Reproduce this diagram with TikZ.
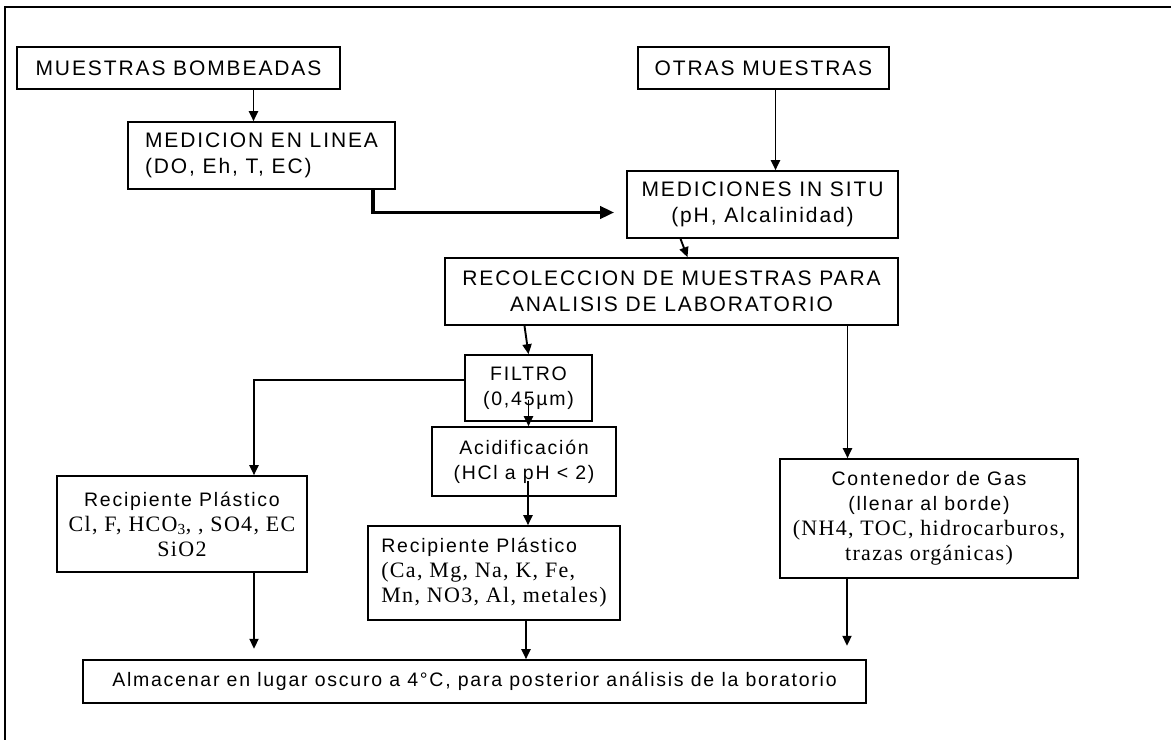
\documentclass[tikz,border=0pt]{standalone}
\usepackage{fontspec}
\setmainfont{Liberation Sans}[LetterSpace=9]
\newfontfamily\serifo{Liberation Serif}[LetterSpace=6]
\newcommand{\seri}{\serifo\fontsize{22}{25}\selectfont}
\usetikzlibrary{arrows.meta}

\begin{document}
\begin{tikzpicture}[x=1pt,y=-1pt,
        caja/.style={rectangle,draw,line width=1.6pt,inner sep=0pt,align=center,font=\fontsize{21}{26}\selectfont},
        chica/.style={font=\fontsize{19.5}{25}\selectfont},
        flecha/.style={-{Triangle[length=10pt,width=9pt]},line width=1.9pt},
        gruesa/.style={-{Triangle[length=14pt,width=12pt]},line width=3.6pt}]
        \useasboundingbox (0,0) rectangle (1171,740);
        \draw[line width=1.2pt] (1171,7) -- (5,7) -- (5,740);
        \node[caja,minimum width=323pt,minimum height=42pt] (bomb) at (178.5,68) {MUESTRAS BOMBEADAS};
        \node[caja,align=left,minimum width=267pt,minimum height=67pt] (linea) at (261.5,155.5) {MEDICION EN LINEA\\(DO, Eh, T, EC)};
        \node[caja,minimum width=251pt,minimum height=42pt] (otras) at (763.5,68) {OTRAS MUESTRAS};
        \node[caja,minimum width=271pt,minimum height=67pt] (situ) at (762.5,204.5) {MEDICIONES IN SITU\\(pH, Alcalinidad)};
        \node[caja,minimum width=453pt,minimum height=67pt] (recol) at (671.5,291.5) {RECOLECCION DE MUESTRAS PARA\\ANALISIS DE LABORATORIO};
        \node[caja,chica,minimum width=127pt,minimum height=66pt] (filtro) at (528.5,388) {FILTRO\\(0,45µm)};
        \node[caja,chica,minimum width=184pt,minimum height=69pt] (acid) at (524,461.5) {Acidificación\\(HCl a pH < 2)};
        \node[caja,chica,minimum width=250pt,minimum height=96pt] (recip1) at (182,524) {Recipiente Plástico\\{\seri Cl, F, HCO\textsubscript{3}, , SO4, EC}\\{\seri SiO2}};
        \node[caja,chica,align=left,minimum width=252pt,minimum height=94pt] (recip2) at (494,573) {Recipiente Plástico\\{\seri (Ca, Mg, Na, K, Fe,}\\{\seri Mn, NO3, Al, metales)}};
        \node[caja,chica,minimum width=298pt,minimum height=119pt] (gas) at (929,518.5) {Contenedor de Gas\\(llenar al borde)\\{\seri (NH4, TOC, hidrocarburos,}\\{\seri trazas orgánicas)}};
        \node[caja,chica,minimum width=783pt,minimum height=43pt] (alm) at (474.5,681.5) {Almacenar en lugar oscuro a 4°C, para posterior análisis de la boratorio};
        \draw[flecha] ([xshift=-8pt]linea.north |- bomb.south) -- ([xshift=-8pt]linea.north);
        \draw[flecha] ([xshift=12pt]otras.south) -- ([xshift=12pt]otras.south |- situ.north);
        \draw[gruesa] ([xshift=-23pt]linea.south east) |- ([xshift=-12pt,yshift=-8pt]situ.west);
        \draw[flecha] ([xshift=-82pt]situ.south) -- ([xshift=16pt]recol.north);
        \draw[flecha] ([xshift=-147pt]recol.south) -- (filtro.north);
        \draw[flecha] ([yshift=8pt]filtro.west) -| ([xshift=72pt]recip1.north);
        \draw[flecha] ([yshift=22pt]filtro.south) -- (filtro.south |- acid.north);
        \draw[flecha] ([xshift=4pt,yshift=16pt]acid.south) -- ([xshift=4pt]acid.south |- recip2.north);
        \draw[flecha] ([xshift=176pt]recol.south) -- ([xshift=176pt]recol.south |- gas.north);
        \draw[flecha] ([xshift=72pt]recip1.south) -- ++(0,76);
        \draw[flecha] ([xshift=32pt]recip2.south) -- ([xshift=32pt]recip2.south |- alm.north);
        \draw[flecha] ([xshift=-82pt]gas.south) -- ++(0,67);
    \end{tikzpicture}
\end{document}
